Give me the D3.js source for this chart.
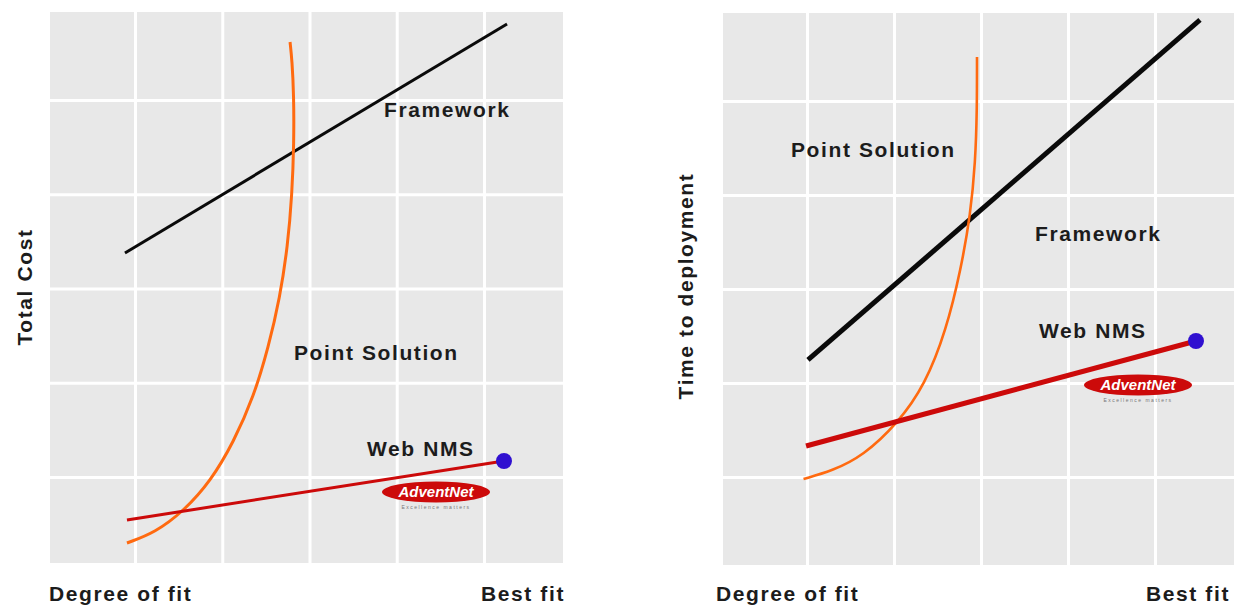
<!DOCTYPE html>
<html>
<head>
<meta charset="utf-8">
<script src="https://cdn.jsdelivr.net/npm/d3@7"></script>
<style>
  html, body { margin: 0; padding: 0; background: #ffffff; }
  svg { display: block; }
  .lbl { font-family: "Liberation Sans", Arial, sans-serif; font-weight: bold; font-size: 21px; letter-spacing: 1.6px; fill: #1c1c1c; }
</style>
</head>
<body>
<svg id="chart" width="1241" height="605"></svg>
<script>
// ---------------- DATA (grid units: gridlines at 1..5) ----------------
const gridTicks = [1, 2, 3, 4, 5];
const xAxisLabels = ["Degree of fit", "Best fit"];
const yAxisLabels = ["Total Cost", "Time to deployment"];
const seriesNames = ["Framework", "Point Solution", "Web NMS"];

// Left chart: Total Cost vs Degree of fit
const costFramework = [[0.885, 3.377], [5.264, 5.807]];
const costWebNMS = [[0.908, 0.544], [5.229, 1.170]];
const costPointSolution = [
  [0.908, 0.300], [1.230, 0.410], [1.560, 0.640], [1.870, 0.960],
  [2.130, 1.370], [2.360, 1.850], [2.530, 2.380], [2.660, 2.900],
  [2.750, 3.450], [2.800, 4.000], [2.822, 4.550], [2.820, 5.050],
  [2.800, 5.420], [2.777, 5.615]
];

// Right chart: Time to deployment vs Degree of fit
const timeFramework = [[1.011, 2.245], [5.517, 5.862]];
const timeWebNMS = [[0.989, 1.330], [5.471, 2.447]];
const timePointSolution = [
  [0.960, 0.979], [1.287, 1.064], [1.644, 1.223], [2.046, 1.574],
  [2.356, 1.979], [2.600, 2.560], [2.770, 3.213], [2.880, 3.800],
  [2.935, 4.351], [2.954, 4.900], [2.954, 5.468]
];

// ---------------- LAYOUT ----------------
const panels = [
  {
    bg: { x0: 50, y0: 12, x1: 563, y1: 563 },
    xRange: [47.75, 571.25], yRange: [571.25, 5.75],
    framework: costFramework, webnms: costWebNMS, point: costPointSolution,
    fwWidth: 3, wnWidth: 3, psWidth: 3,
    yLabel: yAxisLabels[0], yLabelX: 32, yLabelY: 287,
    xLabelLeft: 49, xLabelRight: 481, xLabelBase: 601,
    labels: [
      { t: seriesNames[0], x: 384, y: 117 },
      { t: seriesNames[1], x: 294, y: 360 },
      { t: seriesNames[2], x: 367, y: 456 }
    ],
    logo: { cx: 436, cy: 492 }
  },
  {
    bg: { x0: 723, y0: 13, x1: 1234, y1: 565 },
    xRange: [720, 1242], yRange: [571, 7],
    framework: timeFramework, webnms: timeWebNMS, point: timePointSolution,
    fwWidth: 5, wnWidth: 5, psWidth: 2.6,
    yLabel: yAxisLabels[1], yLabelX: 693, yLabelY: 286,
    xLabelLeft: 716, xLabelRight: 1146, xLabelBase: 601,
    labels: [
      { t: seriesNames[1], x: 791, y: 157 },
      { t: seriesNames[0], x: 1035, y: 241 },
      { t: seriesNames[2], x: 1039, y: 338 }
    ],
    logo: { cx: 1138, cy: 385 }
  }
];

const svg = d3.select("#chart");

panels.forEach(p => {
  const x = d3.scaleLinear().domain([0, 6]).range(p.xRange);
  const y = d3.scaleLinear().domain([0, 6]).range(p.yRange);
  const g = svg.append("g");

  // background
  g.append("rect")
    .attr("x", p.bg.x0).attr("y", p.bg.y0)
    .attr("width", p.bg.x1 - p.bg.x0).attr("height", p.bg.y1 - p.bg.y0)
    .attr("fill", "#e8e8e8");

  // grid via axes
  const gx = g.append("g")
    .attr("transform", `translate(0,${p.bg.y1})`)
    .call(d3.axisBottom(x).tickValues(gridTicks).tickSize(-(p.bg.y1 - p.bg.y0)).tickFormat(""));
  const gy = g.append("g")
    .attr("transform", `translate(${p.bg.x0},0)`)
    .call(d3.axisLeft(y).tickValues(gridTicks).tickSize(-(p.bg.x1 - p.bg.x0)).tickFormat(""));
  [gx, gy].forEach(a => {
    a.select(".domain").remove();
    a.selectAll(".tick line").attr("stroke", "#ffffff").attr("stroke-width", 3);
  });

  const straight = d3.line().x(d => x(d[0])).y(d => y(d[1]));
  const curved = d3.line().x(d => x(d[0])).y(d => y(d[1])).curve(d3.curveBasis);

  // Framework
  g.append("path").datum(p.framework).attr("d", straight)
    .attr("fill", "none").attr("stroke", "#0a0a0a").attr("stroke-width", p.fwWidth);

  // Point Solution
  g.append("path").datum(p.point).attr("d", curved)
    .attr("fill", "none").attr("stroke", "#ff6a10").attr("stroke-width", p.psWidth);

  // Web NMS
  g.append("path").datum(p.webnms).attr("d", straight)
    .attr("fill", "none").attr("stroke", "#cc0a0a").attr("stroke-width", p.wnWidth);
  const end = p.webnms[p.webnms.length - 1];
  g.append("circle").attr("cx", x(end[0])).attr("cy", y(end[1])).attr("r", 8)
    .attr("fill", "#3010d0");

  // series labels
  p.labels.forEach(l => {
    g.append("text").attr("class", "lbl").attr("x", l.x).attr("y", l.y).text(l.t);
  });

  // logo
  const lg = g.append("g").attr("transform", `translate(${p.logo.cx},${p.logo.cy})`);
  lg.append("ellipse").attr("rx", 54).attr("ry", 10.5).attr("fill", "#cc0a0a");
  lg.append("text").attr("x", 0).attr("y", 5)
    .attr("text-anchor", "middle")
    .style("font-family", "'Liberation Sans', Arial, sans-serif")
    .style("font-weight", "bold").style("font-style", "italic")
    .style("font-size", "15px").attr("fill", "#ffffff").text("AdventNet");
  lg.append("text").attr("x", 0).attr("y", 17)
    .attr("text-anchor", "middle")
    .style("font-family", "'Liberation Sans', Arial, sans-serif")
    .style("font-size", "5px").style("letter-spacing", "1.5px")
    .attr("fill", "#777777").text("Excellence matters");

  // axis labels
  g.append("text").attr("class", "lbl")
    .attr("transform", `translate(${p.yLabelX},${p.yLabelY}) rotate(-90)`)
    .attr("text-anchor", "middle").text(p.yLabel);
  g.append("text").attr("class", "lbl").attr("x", p.xLabelLeft).attr("y", p.xLabelBase).text(xAxisLabels[0]);
  g.append("text").attr("class", "lbl").attr("x", p.xLabelRight).attr("y", p.xLabelBase).text(xAxisLabels[1]);
});
</script>
</body>
</html>
